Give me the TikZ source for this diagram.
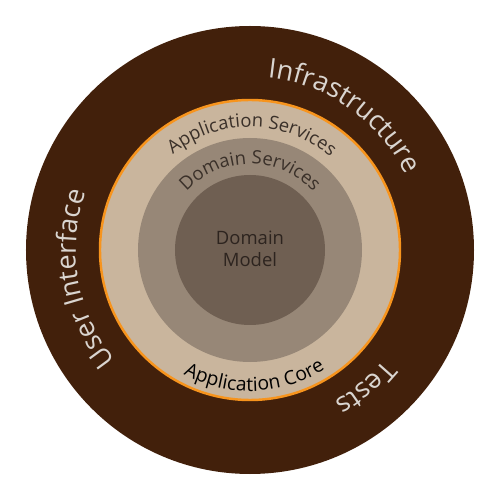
\documentclass[tikz,border=0pt]{standalone}
\usepackage{fontspec}
\setmainfont{Open Sans}
\usepackage{tikz}
\usetikzlibrary{decorations.text}

\definecolor{infrabrown}{HTML}{42200B}
\definecolor{coretan}{HTML}{C9B59D}
\definecolor{servicegray}{HTML}{978777}
\definecolor{modelgray}{HTML}{6F5F52}
\definecolor{coreorange}{HTML}{F7941D}
\definecolor{ringtext}{HTML}{DAD5D0}
\definecolor{darktext}{HTML}{3A3029}
\definecolor{modeltext}{HTML}{2D241F}

\tikzset{
  ringlabel/.style={decorate, decoration={text along path, text align=center,
      text color=ringtext, text={|\fontsize{15.5}{18}\selectfont|#1}}},
  corelabel/.style={decorate, decoration={text along path, text align=center,
      text color=darktext, text={|\fontsize{10.5}{12}\selectfont|#1}}},
}

\begin{document}
\begin{tikzpicture}[x=0.02cm, y=0.02cm]
    \useasboundingbox (-250,-250) rectangle (250,250);

    % Rings from outside in
    \fill[infrabrown] (0,0) circle (224);
    \draw[coreorange, line width=1.4pt, fill=coretan] (0,0) circle (150);
    \fill[servicegray] (0,0) circle (112);
    \fill[modelgray] (0,0) circle (75);

    % Labels of the outer ring (clockwise, letters pointing outwards)
    \path[ringlabel=Infrastructure] (100:173) arc[start angle=100, end angle=10, radius=173];
    \path[ringlabel=User Interface] (235:174) arc[start angle=235, end angle=145, radius=174];
    \path[ringlabel=Tests] (-5:173) arc[start angle=-5, end angle=-95, radius=173];

    % Labels of the application core
    \path[corelabel=Application Services] (150:123) arc[start angle=150, end angle=28, radius=123];
    \path[corelabel=Domain Services] (150:86) arc[start angle=150, end angle=30, radius=86];
    \path[decorate, decoration={text along path, text align=center, text color=black,
        text={|\fontsize{11}{12}\selectfont|Application Core}}]
      (-150:141) arc[start angle=-150, end angle=-26, radius=141];

    % Centre
    \node[align=center, text=modeltext, font=\fontsize{10.5}{12.2}\selectfont] (model) at (0,1) {Domain\\Model};
\end{tikzpicture}
\end{document}
